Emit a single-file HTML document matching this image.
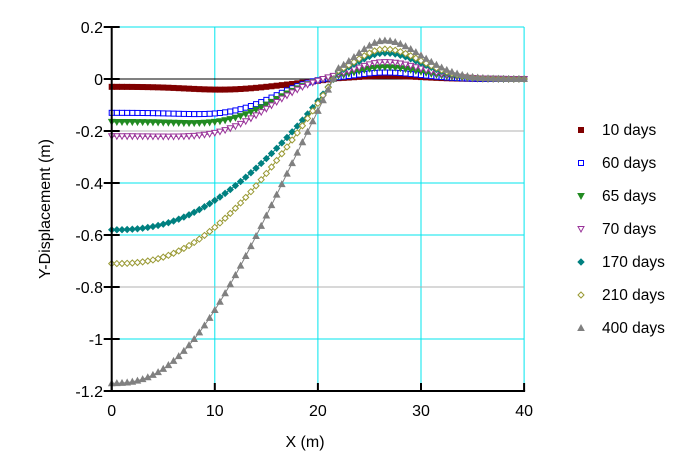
<!DOCTYPE html><html><head><meta charset="utf-8"><style>body{margin:0;background:#fff}svg{display:block;font-family:"Liberation Sans",Arial,sans-serif}</style></head><body>
<svg id="s" width="698" height="469" xmlns="http://www.w3.org/2000/svg">
<g id="grid"></g>
<g id="series"></g>
<g id="axes"></g>
</svg>
<script>
const NS="http://www.w3.org/2000/svg";
function el(p,t,a,txt){const e=document.createElementNS(NS,t);for(const k in a)e.setAttribute(k,a[k]);if(txt!=null)e.textContent=txt;p.appendChild(e);return e;}
const X=x=>111.7+x*10.31, Y=v=>79-v*260;
const G=document.getElementById('grid'),S=document.getElementById('series'),A=document.getElementById('axes');
for(const x of [10,20,30,40])el(G,'line',{x1:X(x),x2:X(x),y1:Y(0.2),y2:Y(-1.2),stroke:'#00e5ee','stroke-width':1});
const hc={0.2:'#00e5ee','-0.2':'#b0b0b0','-0.4':'#00e5ee','-0.6':'#00e5ee','-0.8':'#b0b0b0','-1':'#00e5ee'};
for(const v of [0.2,-0.2,-0.4,-0.6,-0.8,-1])el(G,'line',{x1:X(0),x2:X(40),y1:Y(v),y2:Y(v),stroke:hc[v],'stroke-width':1});
el(G,'line',{x1:X(0),x2:X(40),y1:Y(0),y2:Y(0),stroke:'#000','stroke-width':1});
const ser=[
 {n:'10 days',c:'#800000',m:'sq',f:1,A:-0.03,P:0.012,s:21,p:5,lw:4,dip:0.012},
 {n:'60 days',c:'#0000ff',m:'sq',f:0,A:-0.13,P:0.025,s:17,p:5.5,dip:0.01},
 {n:'65 days',c:'#228b22',m:'dt',f:1,A:-0.165,P:0.045,s:17,p:5,dip:0.012},
 {n:'70 days',c:'#993399',m:'dt',f:0,A:-0.22,P:0.065,s:16.5,p:4.5,dip:0.01},
 {n:'170 days',c:'#008080',m:'di',f:1,A:-0.58,P:0.10,s:18.5,p:2.5},
 {n:'210 days',c:'#999933',m:'di',f:0,A:-0.71,P:0.115,s:18,p:2.6},
 {n:'400 days',c:'#808080',m:'ut',f:1,A:-1.17,P:0.148,s:16.8,p:2.5}
];
function val(o,x){let g=0;if(x<22)g=Math.exp(-Math.pow(x/o.s,o.p))*(1-Math.pow(x/22,8));
 const w=x<26.5?4:5;let d=o.dip?-o.dip*Math.exp(-Math.pow((x-11)/5,2)):0;
 return o.A*g+d+o.P*Math.exp(-Math.pow((x-26.5)/w,2));}
function mark(p,o,cx,cy){const st={fill:o.f?o.c:'#fff',stroke:o.c,'stroke-width':1};
 if(o.m=='sq')el(p,'rect',Object.assign({x:cx-2.5,y:cy-2.5,width:5,height:5},st));
 else if(o.m=='dt')el(p,'polygon',Object.assign({points:`${cx-3},${cy-2.5} ${cx+3},${cy-2.5} ${cx},${cy+3}`},st));
 else if(o.m=='ut')el(p,'polygon',Object.assign({points:`${cx-3},${cy+2.5} ${cx+3},${cy+2.5} ${cx},${cy-3}`},st));
 else el(p,'polygon',Object.assign({points:`${cx},${cy-3} ${cx+3},${cy} ${cx},${cy+3} ${cx-3},${cy}`},st));}
ser.forEach((o,i)=>{let pts=[];for(let k=0;k<=80;k++){const x=k*40/80;pts.push([X(x),Y(val(o,x))]);}
 el(S,'polyline',{points:pts.map(p=>p.join(',')).join(' '),fill:'none',stroke:o.c,'stroke-width':o.lw||1});
 pts.forEach(p=>mark(S,o,p[0],p[1]));
 const ly=130+i*33;mark(A,o,581,ly);el(A,'text',{x:602,y:ly+5,'font-size':15.5,fill:'#000'},o.n);});
el(A,'line',{x1:X(0),x2:X(0),y1:Y(0.2),y2:Y(-1.2),stroke:'#000','stroke-width':2});
el(A,'line',{x1:X(0)-1,x2:X(40)+1,y1:Y(-1.2),y2:Y(-1.2),stroke:'#000','stroke-width':2});
for(const v of [0.2,0,-0.2,-0.4,-0.6,-0.8,-1,-1.2]){el(A,'line',{x1:X(0)-8,x2:X(0)+8,y1:Y(v),y2:Y(v),stroke:'#000','stroke-width':2});
 el(A,'text',{x:103,y:Y(v)+6,'font-size':16,'text-anchor':'end'},String(v));}
for(const x of [0,10,20,30,40]){el(A,'line',{x1:X(x),x2:X(x),y1:Y(-1.2)-8,y2:Y(-1.2),stroke:'#000','stroke-width':2});
 el(A,'text',{x:X(x),y:416,'font-size':16,'text-anchor':'middle'},String(x));}
el(A,'text',{x:305,y:447,'font-size':16,'text-anchor':'middle'},'X (m)');
el(A,'text',{x:0,y:0,'font-size':16,'text-anchor':'middle',transform:'translate(50,209) rotate(-90)'},'Y-Displacement (m)');
</script>
</body></html>
